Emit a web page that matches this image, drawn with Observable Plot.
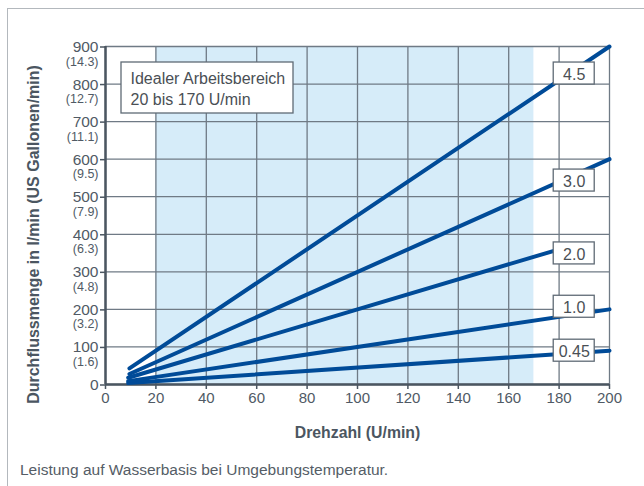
<!DOCTYPE html>
<html>
<head>
<meta charset="utf-8">
<script src="https://cdn.jsdelivr.net/npm/d3@7"></script>
<script src="https://cdn.jsdelivr.net/npm/@observablehq/plot@0.6"></script>
<style>
  html, body { margin: 0; padding: 0; background: #fff; }
  #wrap { position: relative; width: 644px; height: 486px; overflow: hidden; font-family: "Liberation Sans", Arial, sans-serif; }
  #topline { position: absolute; left: 7px; top: 8px; width: 637px; height: 0; border-top: 1.5px solid #b3b8bd; }
  #leftline { position: absolute; left: 7px; top: 8px; width: 0; height: 478px; border-left: 1.5px solid #b3b8bd; }
  #chart { position: absolute; left: 0; top: 0; }
  #caption { position: absolute; left: 20px; top: 461px; font-size: 15.5px; color: #555d66; white-space: nowrap; }
</style>
</head>
<body>
<div id="wrap">
  <div id="topline"></div>
  <div id="leftline"></div>
  <div id="chart"></div>
  <div id="caption">Leistung auf Wasserbasis bei Umgebungstemperatur.</div>
</div>
<script>
// ---- data ----
const seriesNames = ["0.45", "1.0", "2.0", "3.0", "4.5"];
const startRpm   = [9, 9, 9, 9.5, 9.5];
const startFlow  = [4, 9, 18, 28, 43];
const endRpm     = [200, 200, 185, 200, 200];
const endFlow    = [90, 200, 370, 600, 900];
const labelRpm   = [186, 186, 186, 186, 186];
const labelFlow  = [90, 207, 349, 543, 828];
const idealRange = [20, 170];
const xTicks = [0, 20, 40, 60, 80, 100, 120, 140, 160, 180, 200];
const yTicks = [0, 100, 200, 300, 400, 500, 600, 700, 800, 900];
const gallonTicks = [100, 200, 300, 400, 500, 600, 700, 800, 900];
const gallonLabels = ["(1.6)", "(3.2)", "(4.8)", "(6.3)", "(7.9)", "(9.5)", "(11.1)", "(12.7)", "(14.3)"];
const xTitle = "Drehzahl (U/min)";
const yTitle = "Durchflussmenge in l/min (US Gallonen/min)";
const noteLines = ["Idealer Arbeitsbereich", "20 bis 170 U/min"];

// ---- tables ----
const linePoints = seriesNames.flatMap((s, i) => [
  {series: s, rpm: startRpm[i], flow: startFlow[i]},
  {series: s, rpm: endRpm[i], flow: endFlow[i]}
]);
const labels = seriesNames.map((s, i) => ({text: s, rpm: labelRpm[i], flow: labelFlow[i]}));
const gallons = gallonTicks.map((v, i) => ({v, t: gallonLabels[i]}));

const gridColor = "#6f7a85";
const axisColor = "#4b5661";
const textColor = "#505a65";

const chart = Plot.plot({
  width: 644,
  height: 450,
  marginLeft: 105,
  marginRight: 35,
  marginTop: 46,
  marginBottom: 66,
  style: {fontFamily: "'Liberation Sans', Arial, sans-serif", color: textColor, background: "transparent"},
  x: {domain: [0, 200]},
  y: {domain: [0, 900]},
  marks: [
    Plot.rect([idealRange], {x1: d => d[0], x2: d => d[1], y1: 0, y2: 900, fill: "#d6ecf9"}),
    Plot.gridX(xTicks, {stroke: gridColor, strokeOpacity: 1, strokeWidth: 1.3}),
    Plot.gridY(yTicks, {stroke: gridColor, strokeOpacity: 1, strokeWidth: 1.3}),
    Plot.ruleX([0], {stroke: axisColor, strokeWidth: 2.5}),
    Plot.ruleY([0], {stroke: axisColor, strokeWidth: 2.5}),
    Plot.axisX({ticks: xTicks, tickSize: 5, tickPadding: 3, fontSize: 15, stroke: axisColor, strokeWidth: 1.5, label: null, tickFormat: d => String(d)}),
    Plot.axisY({ticks: yTicks, tickSize: 5, tickPadding: 2, fontSize: 15.5, stroke: axisColor, strokeWidth: 1.5, label: null, tickFormat: d => String(d), dy: 0.5}),
    Plot.text(gallons, {x: 0, y: "v", text: "t", textAnchor: "end", dx: -7, dy: 15, fontSize: 12.5, fill: textColor}),
    Plot.line(linePoints, {x: "rpm", y: "flow", z: "series", stroke: "#004b98", strokeWidth: 4}),
    Plot.rect(labels, {x1: "rpm", x2: "rpm", y1: "flow", y2: "flow", insetLeft: -20.5, insetRight: -20.5, insetTop: -11, insetBottom: -11, fill: "white", stroke: "#5f6a75", strokeWidth: 1.3}),
    Plot.text(labels, {x: "rpm", y: "flow", text: "text", fontSize: 16, fill: "#4a4f55", dy: 1}),
    Plot.rect([noteLines], {insetLeft: 16, insetRight: 316, insetTop: 16, insetBottom: 271, fill: "white", stroke: "#5f6a75", strokeWidth: 1.3}),
    Plot.text([noteLines.join("\n")], {frameAnchor: "top-left", dx: 25, dy: 23, lineAnchor: "top", lineHeight: 1.31, fontSize: 16, fill: "#4a4f55", textAnchor: "start"}),
    Plot.text([xTitle], {frameAnchor: "bottom", dy: 53, fontWeight: "bold", fontSize: 15.8, fill: axisColor}),
    Plot.text([yTitle], {frameAnchor: "left", dx: -72, dy: 19, rotate: -90, textAnchor: "middle", fontWeight: "bold", fontSize: 16, fill: axisColor})
  ]
});
document.getElementById("chart").appendChild(chart);
</script>
</body>
</html>
